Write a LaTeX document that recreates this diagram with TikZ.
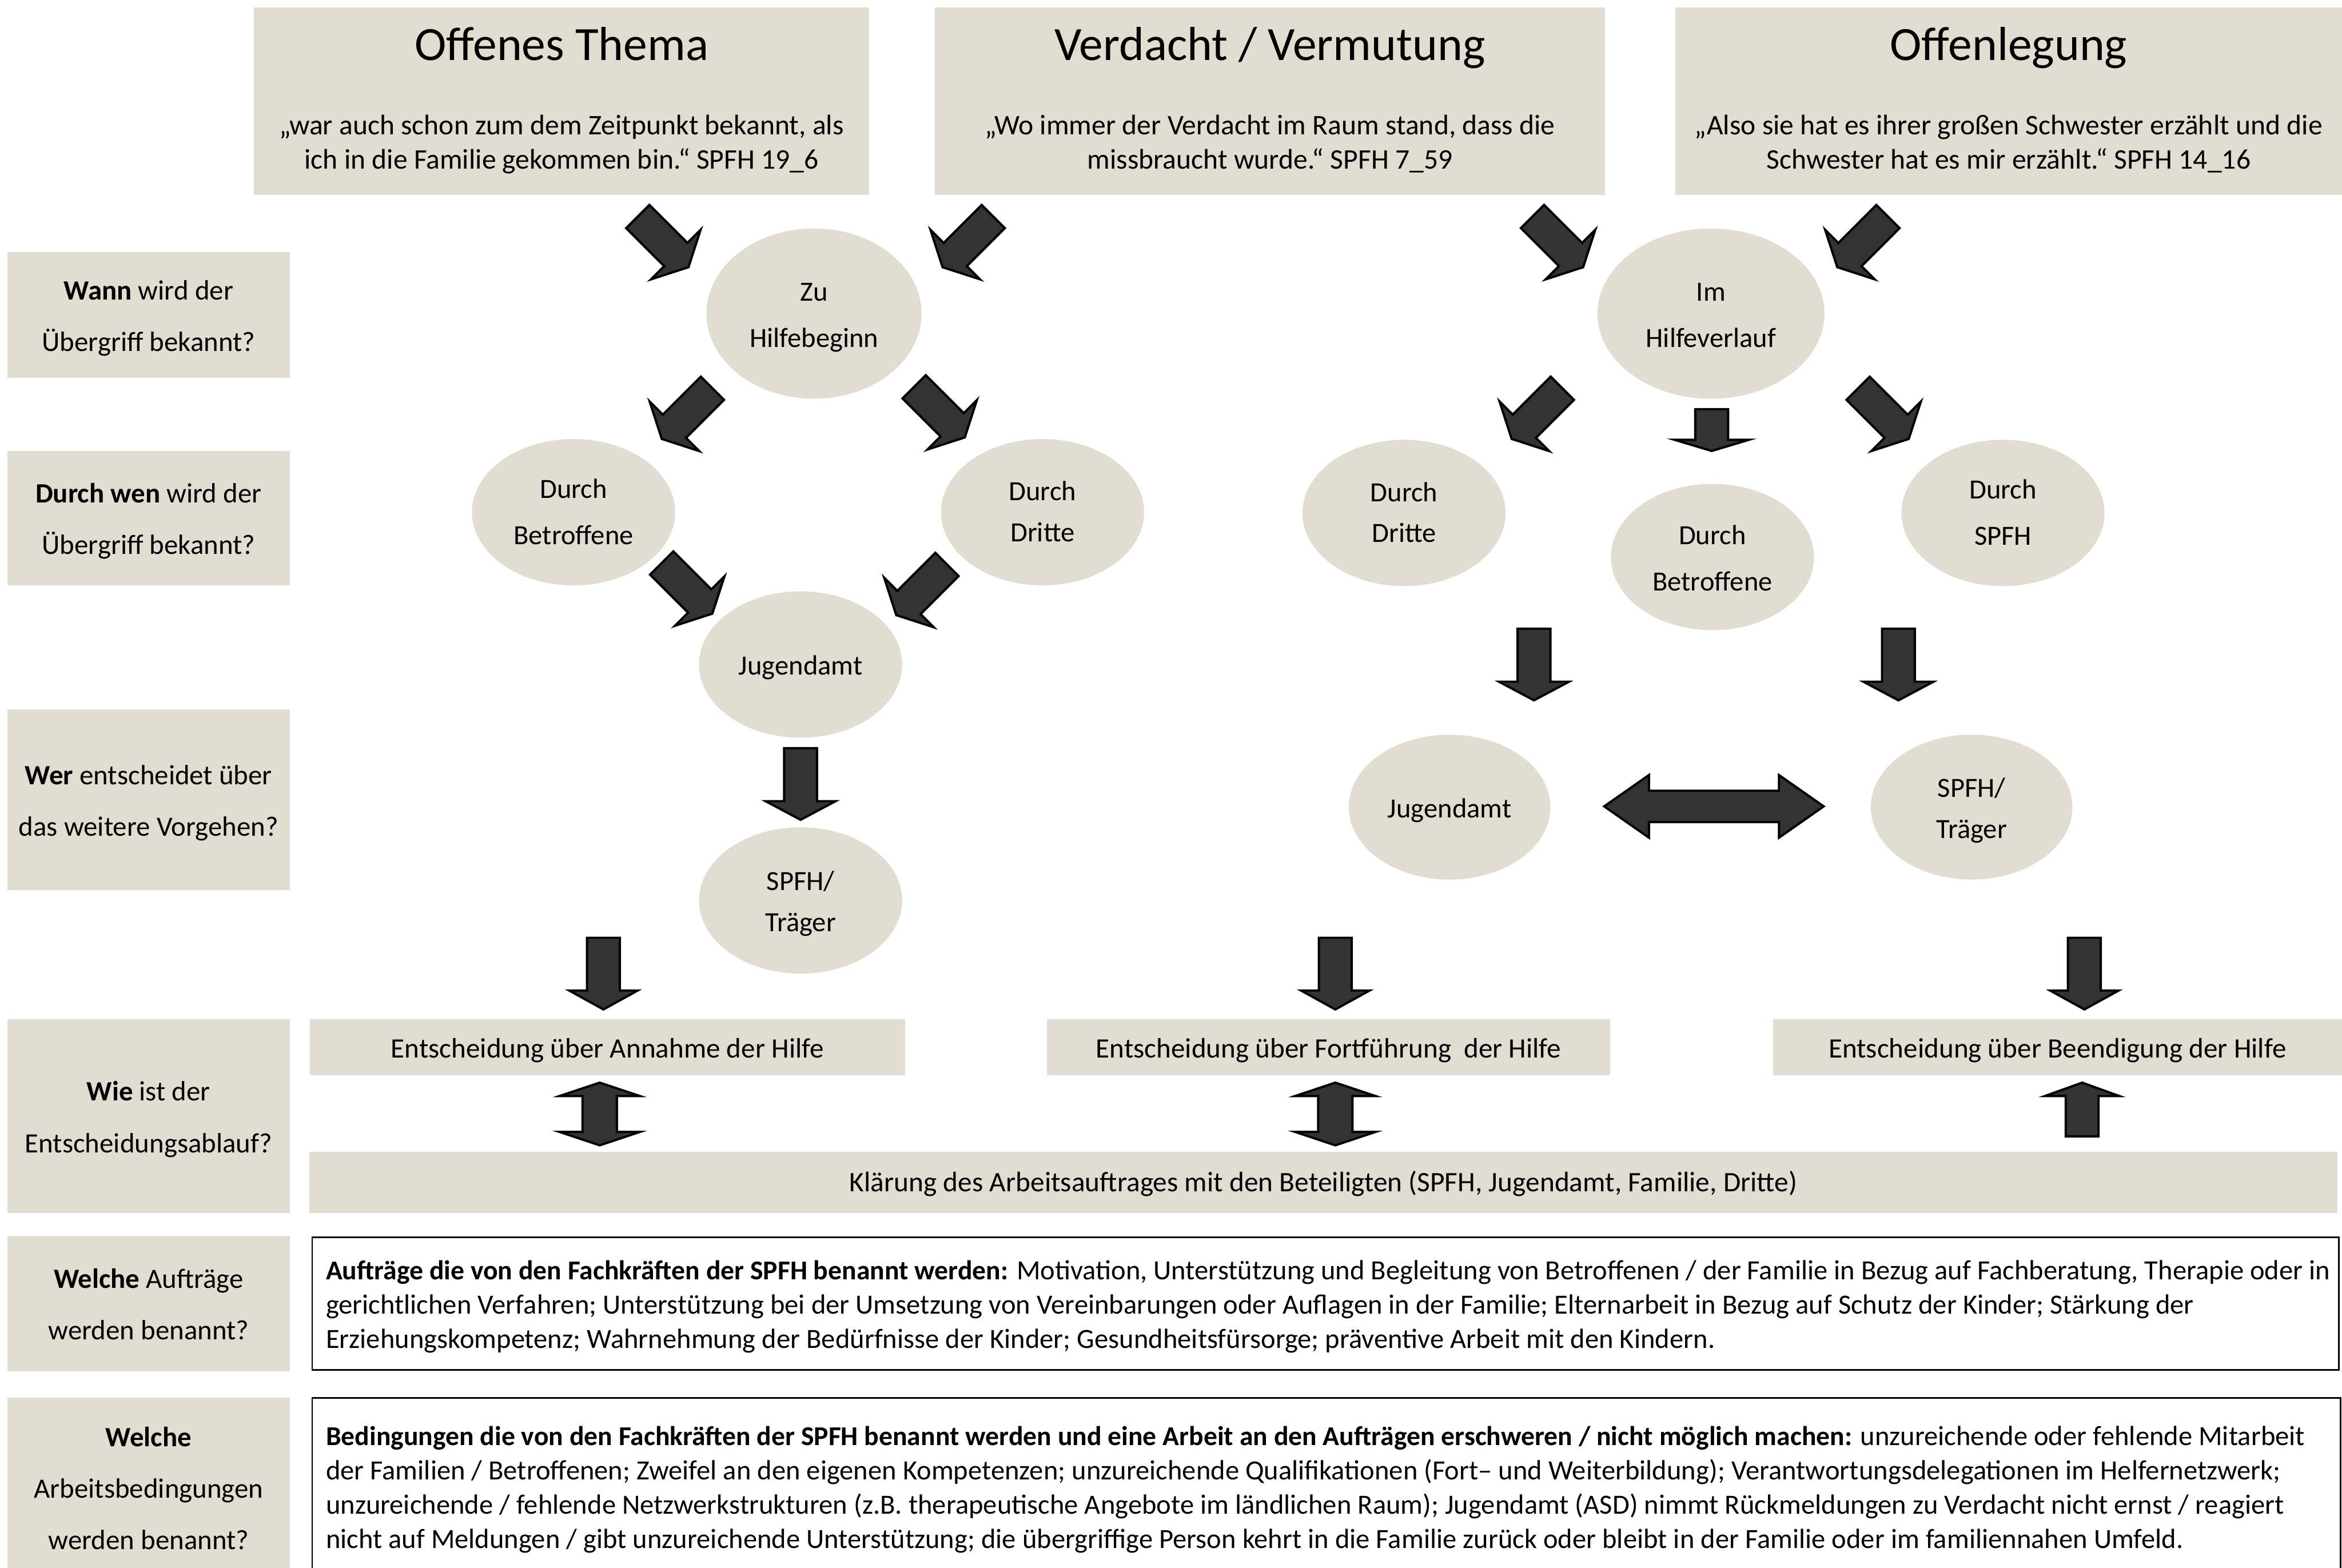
\documentclass[tikz,border=0pt]{standalone}
\usepackage{fontspec}
\setmainfont{Carlito}
\usetikzlibrary{shapes.geometric,calc}
\definecolor{beige}{RGB}{226,221,209}
\definecolor{arrowgray}{RGB}{51,51,51}

% uniform struts so that text boxes are centred on the visual middle of the lines
\newcommand{\st}{\rule[-5pt]{0pt}{22pt}}    % for 23pt line spacing
\newcommand{\stw}{\rule[-6pt]{0pt}{26pt}}   % for the wider spaced labels / ellipses
% slightly narrower bold for the long text boxes
\newcommand{\bb}[1]{{\fontsize{18.25}{23}\selectfont\bfseries #1}}

% block arrow: #1 name, #2 tail point, #3 angle, #4 length, #5 head length, #6 head width, #7 shaft width
\newcommand{\blockarr}[7]{%
  \begin{scope}[shift={#2},rotate=#3]
    \draw[barrow] (0,-#7/2) -- ({#4-#5},-#7/2) -- ({#4-#5},-#6/2) -- (#4,0)
      -- ({#4-#5},#6/2) -- ({#4-#5},#7/2) -- (0,#7/2) -- cycle;
    \coordinate (#1) at (#4,0);
  \end{scope}}
% double block arrow
\newcommand{\dblarr}[7]{%
  \begin{scope}[shift={#2},rotate=#3]
    \draw[barrow] (0,0) -- (#5,-#6/2) -- (#5,-#7/2) -- ({#4-#5},-#7/2) -- ({#4-#5},-#6/2)
      -- (#4,0) -- ({#4-#5},#6/2) -- ({#4-#5},#7/2) -- (#5,#7/2) -- (#5,#6/2) -- cycle;
    \coordinate (#1) at (#4,0);
  \end{scope}}

\begin{document}
\begin{tikzpicture}[x=1pt,y=-1pt,
  bbox/.style={rectangle, fill=beige, inner sep=0pt, align=center, font=\fontsize{18.8}{23}\selectfont},
  lbl/.style={bbox, minimum width=189, font=\fontsize{18.7}{34.5}\selectfont},
  ell/.style={ellipse, fill=beige, inner sep=0pt, align=center, minimum width=136, minimum height=98, font=\fontsize{18.6}{31}\selectfont},
  ellnarrow/.style={ell, font=\fontsize{18.6}{27.5}\selectfont},
  ttl/.style={inner sep=0pt, anchor=base, font=\fontsize{32}{38}\selectfont},
  quot/.style={inner sep=0pt, align=center, font=\fontsize{19}{23}\selectfont},
  barrow/.style={fill=arrowgray, draw=black, line width=1.5pt, line join=miter},
  wbox/.style={rectangle, draw=black, line width=1.1pt, fill=white, inner sep=0pt},
  btxt/.style={inner sep=0pt, align=left, anchor=west, font=\fontsize{18.6}{23}\selectfont},
]
\useasboundingbox (0,0) rectangle (1568,1050);

% ---------- top boxes ----------
\node[bbox, minimum width=412, minimum height=125.5] (top1) at (376,67.75) {};
\node[bbox, minimum width=448.5, minimum height=125.5] (top2) at (850.25,67.75) {};
\node[bbox, minimum width=446.5, minimum height=125.5] (top3) at (1344.75,67.75) {};
\node[ttl] (t1) at (376,40.5) {Offenes Thema};
\node[ttl] (t2) at (850.25,40.5) {Verdacht / Vermutung};
\node[ttl] (t3) at (1344.75,40.5) {Offenlegung};
\node[quot] (q1) at (376,95.5) {\st„war auch schon zum dem Zeitpunkt bekannt, als\\\st ich in die Familie gekommen bin.“ SPFH 19\_6};
\node[quot] (q2) at (850.25,95.5) {\st„Wo immer der Verdacht im Raum stand, dass die\\\st missbraucht wurde.“ SPFH 7\_59};
\node[quot] (q3) at (1344.75,95.5) {\st„Also sie hat es ihrer großen Schwester erzählt und die\\\st Schwester hat es mir erzählt.“ SPFH 14\_16};

% ---------- left question column ----------
\node[lbl, minimum height=84] (l1) at (99.5,211) {\stw\textbf{Wann} wird der\\\stw Übergriff bekannt?};
\node[lbl, minimum height=90] (l2) at (99.5,347) {\stw\textbf{Durch wen} wird der\\\stw Übergriff bekannt?};
\node[lbl, minimum height=121] (l3) at (99.5,535.5) {\stw\textbf{Wer} entscheidet über\\\stw das weitere Vorgehen?};
\node[lbl, minimum height=130] (l4) at (99.5,747.5) {\stw\textbf{Wie} ist der\\\stw Entscheidungsablauf?};
\node[lbl, minimum height=90.5] (l5) at (99.5,873) {\stw\textbf{Welche} Aufträge\\\stw werden benannt?};
\node[lbl, minimum height=120] (l6) at (99.5,996) {\stw\textbf{Welche}\\\stw Arbeitsbedingungen\\\stw werden benannt?};

% ---------- ellipses ----------
\node[ell, minimum width=144, minimum height=114] (zu) at (545,210) {\stw Zu\\\stw Hilfebeginn};
\node[ell, minimum width=152, minimum height=114] (im) at (1145.5,210) {\stw Im\\\stw Hilfeverlauf};
\node[ell] (betrL) at (384,343) {\st Durch\\\st Betroffene};
\node[ellnarrow] (dritL) at (698,343) {\st Durch\\\st Dritte};
\node[ell] (jugL) at (536,445) {\stw Jugendamt};
\node[ellnarrow] (spfhL) at (536,603) {\stw SPFH/\\\stw Träger};
\node[ellnarrow] (dritR) at (940,343.5) {\st Durch\\\st Dritte};
\node[ell] (betrR) at (1146.5,373) {\stw Durch\\\stw Betroffene};
\node[ell] (durchspfh) at (1341,343.5) {\st Durch\\\st SPFH};
\node[ell, minimum width=135, minimum height=97] (jugR) at (970.5,540.5) {\stw Jugendamt};
\node[ellnarrow, minimum width=135, minimum height=97] (spfhR) at (1320,540.5) {\stw SPFH/\\\stw Träger};

% ---------- decision boxes ----------
\node[bbox, minimum width=398.6, minimum height=37.5] (e1) at (406.7,701.2) {\stw Entscheidung über Annahme der Hilfe};
\node[bbox, minimum width=377, minimum height=37.5] (e2) at (889.5,701.2) {\stw Entscheidung über Fortführung\ \ der Hilfe};
\node[bbox, minimum width=381, minimum height=37.5] (e3) at (1377.5,701.2) {\stw Entscheidung über Beendigung der Hilfe};
\node[bbox, minimum width=1358, minimum height=41, font=\fontsize{18.9}{23}\selectfont] (kl) at (886,792) {\st Klärung des Arbeitsauftrages mit den Beteiligten (SPFH, Jugendamt, Familie, Dritte)};

% ---------- white text boxes ----------
\node[wbox, minimum width=1357, minimum height=89] (auf) at (887.5,873) {};
\node[wbox, minimum width=1358, minimum height=124] (bed) at (888,998) {};
\node[btxt] (auftxt) at (218,874) {\st\bb{Aufträge die von den Fachkräften der SPFH benannt werden:} Motivation, Unterstützung und Begleitung von Betroffenen / der Familie in Bezug auf Fachberatung, Therapie oder in\\
\st gerichtlichen Verfahren; Unterstützung bei der Umsetzung von Vereinbarungen oder Auflagen in der Familie; Elternarbeit in Bezug auf Schutz der Kinder; Stärkung der\\
\st Erziehungskompetenz; Wahrnehmung der Bedürfnisse der Kinder; Gesundheitsfürsorge; präventive Arbeit mit den Kindern.};
\node[btxt] (bedtxt) at (218,996.5) {\st\bb{Bedingungen die von den Fachkräften der SPFH benannt werden und eine Arbeit an den Aufträgen erschweren / nicht möglich machen:} unzureichende oder fehlende Mitarbeit\\
\st der Familien / Betroffenen; Zweifel an den eigenen Kompetenzen; unzureichende Qualifikationen (Fort– und Weiterbildung); Verantwortungsdelegationen im Helfernetzwerk;\\
\st unzureichende / fehlende Netzwerkstrukturen (z.B. therapeutische Angebote im ländlichen Raum); Jugendamt (ASD) nimmt Rückmeldungen zu Verdacht nicht ernst / reagiert\\
\st nicht auf Meldungen / gibt unzureichende Unterstützung; die übergriffige Person kehrt in die Familie zurück oder bleibt in der Familie oder im familiennahen Umfeld.};

% ---------- block arrows ----------
\blockarr{a1}{(427,145)}{-45}{48}{12}{47}{22}
\blockarr{a2}{(665,145)}{-135}{48}{12}{47}{22}
\blockarr{a3}{(1026,145)}{-45}{48}{12}{47}{22}
\blockarr{a4}{(1264,145)}{-135}{48}{12}{47}{22}
\blockarr{a5}{(477,260)}{-135}{48}{12}{47}{22}
\blockarr{a6}{(612,259)}{-45}{48}{12}{47}{22}
\blockarr{a7}{(443,377)}{-45}{48}{12}{47}{22}
\blockarr{a8}{(634,378)}{-135}{48}{12}{47}{22}
\blockarr{a9}{(536,501)}{-90}{48}{12.5}{47}{22}
\blockarr{a10}{(1046,260)}{-135}{48}{12}{47}{22}
\blockarr{a11}{(1146,274)}{-90}{28}{7.5}{50}{22}
\blockarr{a12}{(1244,260)}{-45}{48}{12}{47}{22}
\blockarr{a13}{(1027,421)}{-90}{48}{12.5}{47}{22}
\blockarr{a14}{(1271,421)}{-90}{48}{12.5}{47}{22}
\blockarr{a15}{(404,628)}{-90}{48}{12.7}{46}{22}
\blockarr{a16}{(894,628)}{-90}{48}{12.7}{46}{22}
\blockarr{a17}{(1395.5,628)}{-90}{48}{12.7}{46}{22}
\blockarr{a18}{(1394,761)}{90}{36}{9}{50}{22}
\dblarr{d1}{(1074,540)}{0}{147}{30}{42}{21}
\dblarr{d2}{(401.5,725)}{-90}{42}{9}{54}{23}
\dblarr{d3}{(894,725)}{-90}{42}{9}{54}{23}
\end{tikzpicture}
\end{document}
